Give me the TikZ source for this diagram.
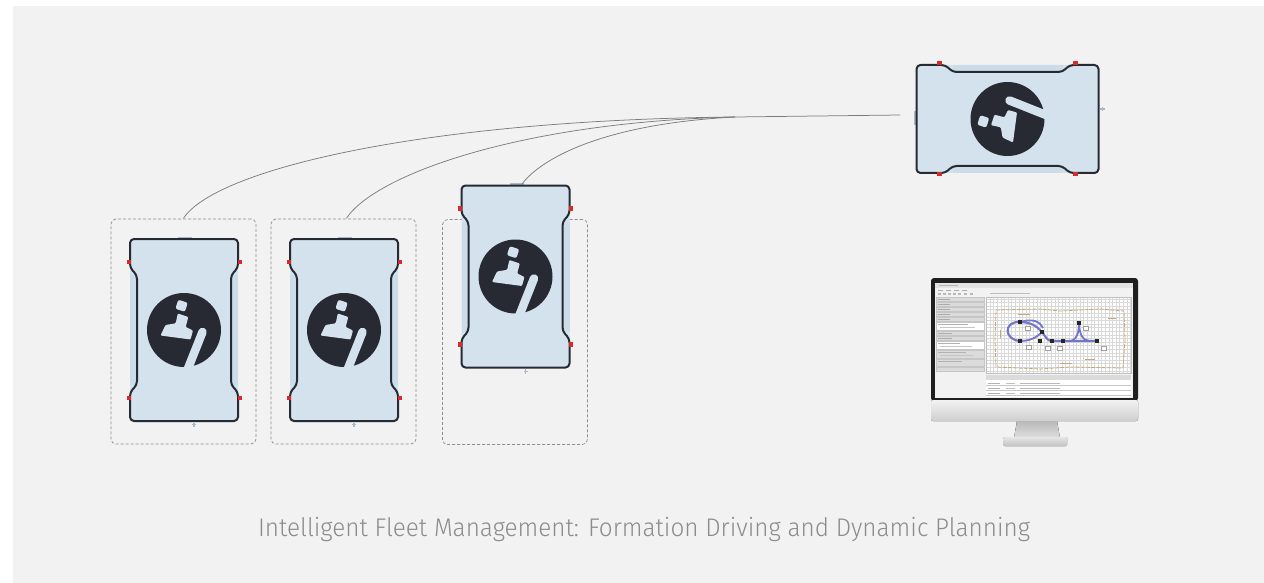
\documentclass[tikz,border=0pt]{standalone}
\usepackage{fontspec}
\newfontfamily\capfont{Fira Sans}[UprightFont={* Light}]
\usetikzlibrary{calc}

\definecolor{panel}{HTML}{F2F2F2}
\definecolor{bodyfill}{HTML}{D4E2EE}
\definecolor{bodyedge}{HTML}{CCDCE9}
\definecolor{outline}{HTML}{262A33}
\definecolor{logoink}{HTML}{272A33}
\definecolor{pin}{HTML}{D42B2B}
\definecolor{tab}{HTML}{A9B8C6}
\definecolor{dashgrey}{HTML}{8E8E8E}
\definecolor{wire}{HTML}{7C7C7C}
\definecolor{captext}{HTML}{8C8C8C}
\definecolor{track}{HTML}{7276C8}
\definecolor{wall}{HTML}{C9A878}

\tikzset{
  x=1pt, y=-1pt,
  slotbox/.style={draw=dashgrey, dashed, dash pattern=on 3pt off 2pt,
    line width=0.7pt, rounded corners=5pt, minimum width=145pt,
    minimum height=225pt, inner sep=0pt},
  wirecurve/.style={draw=wire, line width=0.75pt},
  bodyline/.style={draw=outline, line width=2pt, line join=round},
  pinmark/.style={fill=pin},
  cutout/.style={fill=bodyfill},
  pics/robot/.style={code={
    % chassis plate
    \fill[bodyfill, rounded corners=6pt] (-54,-91) rectangle (54,91);
    \fill[bodyedge] (-54,-55) rectangle (-47,55);
    \fill[bodyedge] (47,-55) rectangle (54,55);
    % docking tab on top, sensor tick below
    \fill[tab] (-6,-93.5) rectangle (8,-91);
    \fill[tab] (9.4,92.5) rectangle (10.8,97);
    \fill[tab] (8.2,94) rectangle (12,94.8);
    % outline with side notches
    \draw[bodyline, rounded corners=4pt]
      (-54,-91) -- (54,-91) -- (54,-62) -- (47,-55) -- (47,55) -- (54,62)
      -- (54,91) -- (-54,91) -- (-54,62) -- (-47,55) -- (-47,-55)
      -- (-54,-62) -- cycle;
    % corner pins
    \foreach \sx in {-55.5,55.5}{
      \foreach \sy in {-68,68}{
        \fill[pinmark] (\sx-2,\sy-2.3) rectangle (\sx+2,\sy+2.3);
      }
    }
    % logo disc with its light cut-outs
    \fill[logoink] (0,0) circle (37);
    \draw[bodyfill, line width=8.5pt, line cap=round] (18.5,2) -- (3,41);
    \fill[cutout, rounded corners=2pt, rotate around={-18:(-2.5,-24)}]
      (-7.5,-29) rectangle (2.5,-19.5);
    \fill[cutout, rounded corners=1pt]
      (-23.5,5.5) -- (-18.5,-5) -- (-8.3,-6.7) -- (-6.2,-16.5) -- (4.3,-13)
      -- (1.7,-3) -- (9,0.5) -- (6.5,9.5) -- cycle;
  }},
}

\begin{document}
\begin{tikzpicture}
  \useasboundingbox (0,0) rectangle (1264,583);
  \fill[white] (0,0) rectangle (1264,583);
  \fill[panel] (13,6) rectangle (1264,583);

  % formation slots
  \node[slotbox] (slot1) at (183.5,331.5) {};
  \node[slotbox] (slot2) at (343.5,331.5) {};
  \node[slotbox] (slot3) at (515,332) {};

  % follower vehicles
  \pic at (184,330) {robot};
  \pic at (344,330) {robot};
  \pic at (515.5,276.5) {robot};
  \coordinate (f3top) at (522,184);

  % leader vehicle
  \pic[rotate=90] at (1007.5,119) {robot};
  \coordinate (leadin) at (900,115);
  \coordinate (merge) at (735,117);

  % links from followers to leader
  \draw[wirecurve] ($(slot1.north)+(0,-0.4)$) .. controls (215,170) and (420,120) .. (merge) -- (leadin);
  \draw[wirecurve] ($(slot2.north)+(3,-0.4)$) .. controls (375,175) and (520,122) .. (merge);
  \draw[wirecurve] (f3top) .. controls (540,160) and (600,124) .. (merge);

  % control monitor
  \fill[black!88, rounded corners=3pt] (931,401) -- (931,278) -- (1138,278) -- (1138,401) -- cycle;
  \fill[top color=gray!10, bottom color=gray!38, rounded corners=2pt] (931,400) rectangle (1138,421);
  \fill[top color=gray!55, bottom color=gray!25] (1017,421) -- (1057,421) -- (1060,438) -- (1014,438) -- cycle;
  \fill[top color=gray!20, bottom color=gray!48, rounded corners=1.5pt] (1003,437) rectangle (1067,446);
  % screen
  \fill[gray!10] (935,283) rectangle (1133,398);
  \fill[gray!22] (935,283) rectangle (1133,288);
  \fill[gray!60] (939,284.8) rectangle (958,285.9);
  \foreach \mx in {938,946,954,962}{ \fill[gray!65] (\mx,289.5) rectangle (\mx+5,290.5); }
  \foreach \mx in {938,943,948,953,958,964,970}{ \fill[gray!55] (\mx,292.5) rectangle (\mx+3,295); }
  \fill[gray!50] (990,292.8) rectangle (1030,293.8);
  % side panel
  \foreach \ry in {297,302,307,312,317}{
    \filldraw[fill=gray!28, draw=gray!45, line width=0.3pt] (936,\ry) rectangle (984,\ry+4.2);
    \fill[gray!65] (938,\ry+1.6) rectangle (950,\ry+2.5);
  }
  \filldraw[fill=white, draw=gray!45, line width=0.3pt] (936,322) rectangle (984,330);
  \fill[gray!60] (938,323.5) rectangle (968,324.4);
  \fill[gray!45] (940,326.5) rectangle (975,327.3);
  \foreach \ry in {331,336}{
    \filldraw[fill=gray!28, draw=gray!45, line width=0.3pt] (936,\ry) rectangle (984,\ry+4.2);
    \fill[gray!65] (938,\ry+1.6) rectangle (952,\ry+2.5);
  }
  \filldraw[fill=white, draw=gray!45, line width=0.3pt] (936,341) rectangle (984,349);
  \fill[gray!60] (938,342.5) rectangle (960,343.4);
  \fill[gray!45] (940,345.5) rectangle (972,346.3);
  \filldraw[fill=gray!28, draw=gray!45, line width=0.3pt] (936,350) rectangle (984,358);
  \fill[gray!60] (938,351.5) rectangle (966,352.4);
  \fill[gray!45] (940,354.5) rectangle (974,355.3);
  \filldraw[fill=gray!28, draw=gray!45, line width=0.3pt] (936,359) rectangle (984,366);
  \fill[gray!60] (938,360.5) rectangle (962,361.4);
  \filldraw[fill=gray!28, draw=gray!45, line width=0.3pt] (936,367) rectangle (984,371);
  % map view
  \fill[white] (986,297) rectangle (1131,373);
  \draw[gray!30, line width=0.3pt, step=3.6pt] (986,297) grid (1131,373);
  \draw[gray!50, line width=0.3pt] (986,297) rectangle (1131,373);
  \draw[wall, line width=0.8pt, dash pattern=on 4pt off 1.2pt]
    (996,310) -- (1040,309) -- (1060,311) -- (1100,309) -- (1124,311)
    -- (1125,340) -- (1123,368) -- (1070,367) -- (1040,369) -- (996,367)
    -- (995,340) -- cycle;
  \draw[wall, line width=0.7pt] (1018,314) -- (1030,314) (1060,363) -- (1072,363)
    (1085,359) -- (1095,359) (1108,318) -- (1116,318) (1000,330) -- (1000,338);
  % planned routes
  \draw[track, line width=2.1pt, line cap=round]
    (1020,341) .. controls (1004,340) and (1003,321) .. (1020,322)
    .. controls (1030,322) and (1037,326) .. (1042,332)
    .. controls (1046,337) and (1047,341) .. (1052,341) -- (1097,341);
  \draw[track, line width=1.8pt]
    (1020,341) .. controls (1032,341) and (1038,336) .. (1042,332);
  \draw[track, line width=1.8pt]
    (1020,322) .. controls (1034,318) and (1040,322) .. (1043,328);
  \draw[track, line width=1.8pt]
    (1069,341) .. controls (1076,341) and (1079,334) .. (1079,323)
    .. controls (1079,334) and (1083,341) .. (1090,341);
  \foreach \px/\py in {1020/322,1020/341,1042/332,1040/341,1052/341,1063/341,1079/323,1097/341}{
    \fill[black!85] (\px-1.6,\py-1.6) rectangle (\px+1.6,\py+1.6);
  }
  \foreach \lx/\ly in {1025/326,1026/345,1045/346,1057/346,1083/326,1101/346}{
    \filldraw[fill=white, draw=gray!75, line width=0.35pt] (\lx,\ly) rectangle (\lx+5,\ly+4);
  }
  % event log
  \fill[white] (986,375) rectangle (1131,397);
  \fill[gray!28] (986,375) rectangle (1131,380);
  \foreach \ty in {383,388,393}{
    \draw[gray!45, line width=0.3pt] (986,\ty+2.5) -- (1131,\ty+2.5);
    \fill[gray!60] (988,\ty) rectangle (1000,\ty+1);
    \fill[gray!50] (1006,\ty) rectangle (1015,\ty+1);
    \fill[gray!55] (1020,\ty) rectangle (1060,\ty+1);
  }

  % caption
  \node[text=captext, inner sep=0pt, anchor=base] (caption) at (644,536)
    {\resizebox{772pt}{\height}{\capfont\fontsize{25.5pt}{29pt}\selectfont Intelligent Fleet Management: Formation Driving and Dynamic Planning}};
\end{tikzpicture}
\end{document}
